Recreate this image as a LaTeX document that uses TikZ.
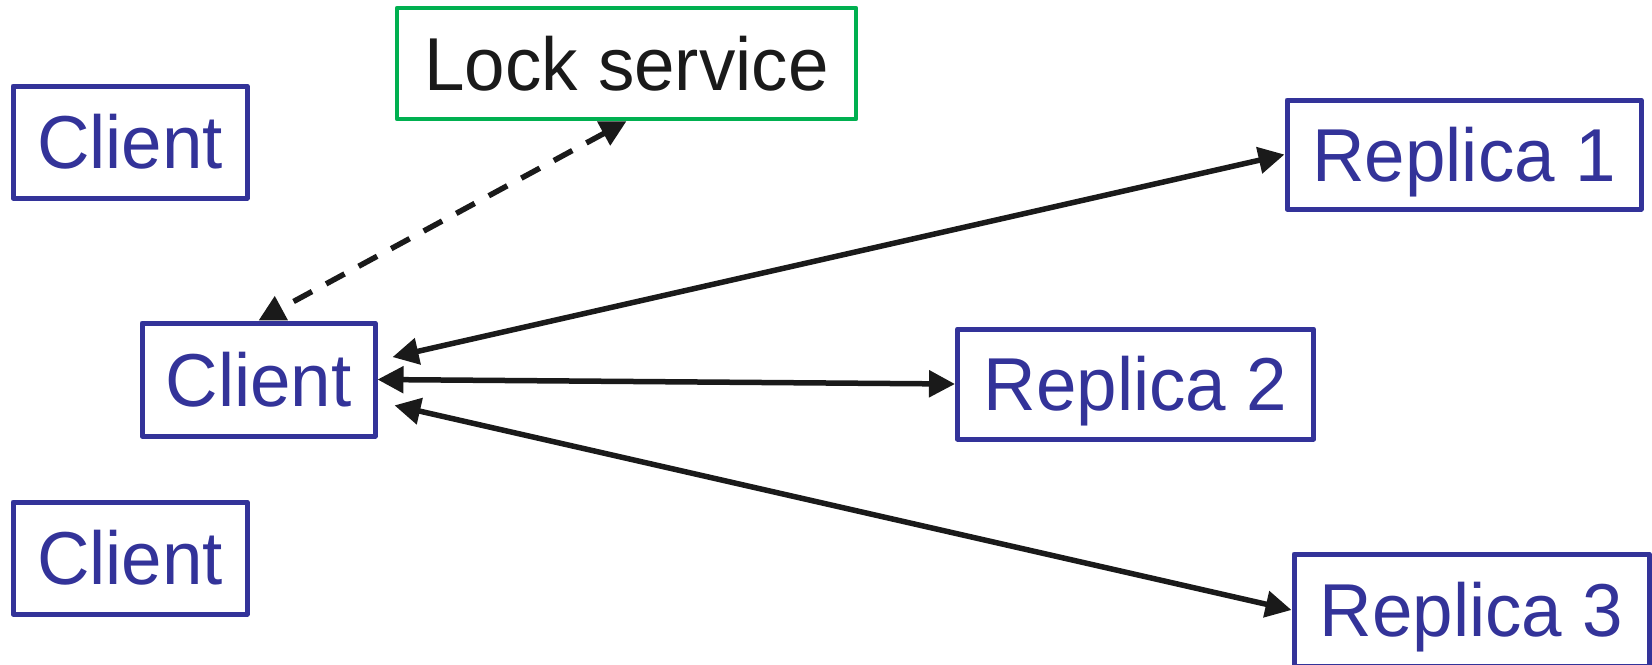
\documentclass[tikz,border=0pt]{standalone}
\usepackage{fontspec}
\setmainfont{Liberation Sans}
\newfontfamily\boxfont[FakeStretch=0.97]{Liberation Sans}
\usetikzlibrary{arrows.meta,backgrounds,calc}
\definecolor{nodeblue}{RGB}{51,51,153}
\definecolor{lockgreen}{RGB}{0,176,80}
\definecolor{linkblack}{RGB}{26,26,26}
\tikzset{
  box/.style={rectangle, draw=nodeblue, text=nodeblue, line width=2.5pt, line join=round,
    fill=white, inner sep=0pt, font=\boxfont\fontsize{37.5}{40}\selectfont,
    text height=26.8pt, text depth=0pt},
  lockbox/.style={box, draw=lockgreen, text=linkblack, line width=2.2pt},
  link/.style={draw=linkblack, line width=2.75pt,
    {Triangle[length=13pt,width=13pt]}-{Triangle[length=13pt,width=13pt]}},
  lockline/.style={link, dash pattern=on 10.5pt off 8pt},
}
\begin{document}
\begin{tikzpicture}[x=0.5pt, y=-0.5pt]
  \useasboundingbox (0,0) rectangle (1652,664);

  % lock service and clients
  \node[lockbox, minimum width=229.5pt, minimum height=55.5pt] (lock) at (626.5,63.5) {Lock service};
  \node[box, minimum width=117pt, minimum height=56pt] (c1) at (130,142) {Client};
  \node[box, minimum width=116.5pt, minimum height=56.5pt] (c2) at (258.5,379.5) {Client};
  \node[box, minimum width=117pt, minimum height=56pt] (c3) at (130,558) {Client};

  % replicas
  \node[box, minimum width=177pt, minimum height=54.5pt] (r1) at (1464,154.5) {Replica 1};
  \node[box, minimum width=178pt, minimum height=55pt] (r2) at (1135.5,384) {Replica 2};
  \node[box, minimum width=177.5pt, minimum height=56pt] (r3) at (1471.5,610) {Replica 3};

  % connections, kept behind the boxes
  \begin{scope}[on background layer]
    \draw[lockline] (lock.south) -- (c2.north);
    \draw[link, shorten <=7.7pt] ($(c2.east)+(0,-19)$) -- (r1.west);
    \draw[link] (c2.east) -- (r2.west);
    \draw[link, shorten <=8.7pt] ($(c2.east)+(0,22)$) -- (r3.west);
  \end{scope}
\end{tikzpicture}
\end{document}
